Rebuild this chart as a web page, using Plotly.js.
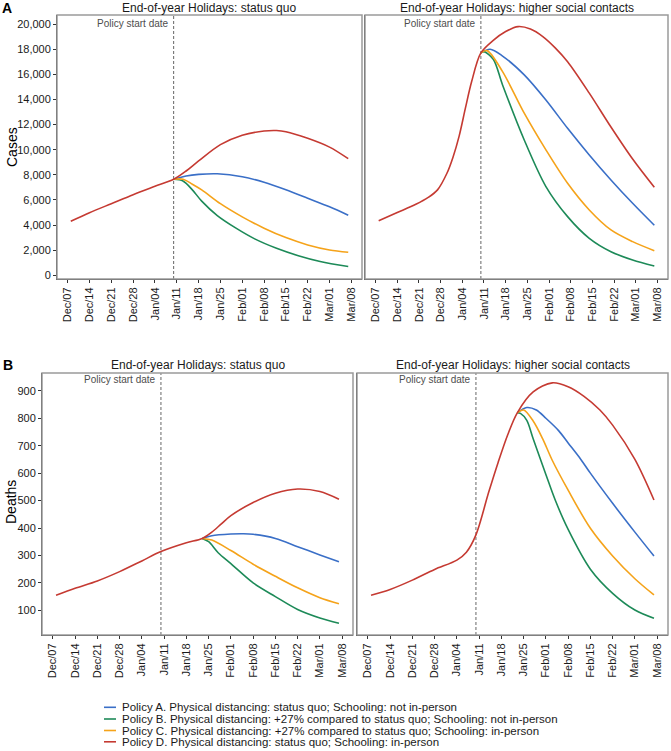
<!DOCTYPE html>
<html><head><meta charset="utf-8">
<script src="https://cdn.plot.ly/plotly-3.0.1.min.js"></script>
<style>html,body{margin:0;padding:0;background:#fff}#chart{width:671px;height:751px}</style>
</head><body><div id="chart"></div>
<script>
// ---------- data ----------
const policyDate = '2021-01-10';
const tickDates = ['2020-12-07','2020-12-14','2020-12-21','2020-12-28','2021-01-04','2021-01-11','2021-01-18','2021-01-25','2021-02-01','2021-02-08','2021-02-15','2021-02-22','2021-03-01','2021-03-08'];
const tickLabels = ['Dec/07','Dec/14','Dec/21','Dec/28','Jan/04','Jan/11','Jan/18','Jan/25','Feb/01','Feb/08','Feb/15','Feb/22','Mar/01','Mar/08'];
const panelTitles = ['End-of-year Holidays: status quo','End-of-year Holidays: higher social contacts'];
const seriesNames = [
  'Policy A. Physical distancing: status quo; Schooling: not in-person',
  'Policy B. Physical distancing: +27% compared to status quo; Schooling: not in-person',
  'Policy C. Physical distancing: +27% compared to status quo; Schooling: in-person',
  'Policy D. Physical distancing: status quo; Schooling: in-person'
];
const seriesColors = ['#3a6fc7','#1d8a58','#f5a31a','#c53a32'];
const rowLabels = ['A','B'];
const yTitles = ['Cases','Deaths'];
const casesTicks = [0,2000,4000,6000,8000,10000,12000,14000,16000,18000,20000];
const deathsTicks = [100,200,300,400,500,600,700,800,900];

// Cases, status quo
const casesSqDatesA = ['2021-01-10','2021-01-14','2021-01-18','2021-01-24','2021-02-01','2021-02-08','2021-02-15','2021-02-22','2021-03-01','2021-03-07'];
const casesSqA = [7640,7900,8030,8080,7850,7400,6800,6130,5450,4780];
const casesSqDatesB = ['2021-01-10','2021-01-13','2021-01-16','2021-01-19','2021-01-24','2021-01-30','2021-02-05','2021-02-12','2021-02-19','2021-02-26','2021-03-07'];
const casesSqB = [7640,7500,6800,5900,4750,3750,2900,2150,1560,1100,700];
const casesSqDatesC = ['2021-01-10','2021-01-13','2021-01-16','2021-01-19','2021-01-25','2021-02-01','2021-02-08','2021-02-15','2021-02-22','2021-03-01','2021-03-07'];
const casesSqC = [7640,7650,7250,6800,5700,4650,3750,3000,2420,2020,1830];
const casesSqDatesD = ['2020-12-08','2020-12-14','2020-12-21','2020-12-28','2021-01-04','2021-01-10','2021-01-14','2021-01-18','2021-01-25','2021-02-01','2021-02-08','2021-02-12','2021-02-15','2021-02-22','2021-03-01','2021-03-07'];
const casesSqD = [4300,4980,5700,6420,7080,7640,8300,9100,10400,11150,11480,11520,11430,10900,10200,9280];

// Cases, higher social contacts
const casesHcDatesA = ['2021-01-10','2021-01-13','2021-01-17','2021-01-24','2021-01-31','2021-02-07','2021-02-14','2021-02-21','2021-02-28','2021-03-07'];
const casesHcA = [17700,17990,17450,15950,13950,11700,9580,7590,5730,3980];
const casesHcDatesB = ['2021-01-10','2021-01-11','2021-01-14','2021-01-17','2021-01-24','2021-01-31','2021-02-07','2021-02-14','2021-02-21','2021-02-28','2021-03-07'];
const casesHcB = [17700,17800,17200,15150,10770,7060,4670,2945,1880,1220,740];
const casesHcDatesC = ['2021-01-10','2021-01-12','2021-01-17','2021-01-24','2021-01-31','2021-02-07','2021-02-14','2021-02-21','2021-02-28','2021-03-07'];
const casesHcC = [17700,17880,16210,12900,9980,7320,5200,3610,2680,1960];
const casesHcDatesD = ['2020-12-08','2020-12-14','2020-12-20','2020-12-24','2020-12-27','2020-12-30','2021-01-01','2021-01-03','2021-01-05','2021-01-07','2021-01-10','2021-01-14','2021-01-18','2021-01-22','2021-01-26','2021-01-30','2021-02-03','2021-02-07','2021-02-14','2021-02-21','2021-02-28','2021-03-07'];
const casesHcD = [4350,5000,5650,6200,6800,8100,9400,11100,13300,15400,17700,18700,19400,19790,19600,19000,18100,17000,14500,11800,9250,7000];

// Deaths, status quo
const deathsSqDatesA = ['2021-01-23','2021-01-26','2021-02-01','2021-02-05','2021-02-08','2021-02-15','2021-02-22','2021-03-01','2021-03-07'];
const deathsSqA = [362,372,378,379,377,362,332,302,277];
const deathsSqDatesB = ['2021-01-23','2021-01-25','2021-01-28','2021-02-01','2021-02-08','2021-02-15','2021-02-22','2021-03-01','2021-03-07'];
const deathsSqB = [362,350,310,270,200,150,103,72,53];
const deathsSqDatesC = ['2021-01-23','2021-01-26','2021-02-01','2021-02-08','2021-02-15','2021-02-22','2021-03-01','2021-03-07'];
const deathsSqC = [362,356,318,268,224,182,146,124];
const deathsSqDatesD = ['2020-12-08','2020-12-14','2020-12-21','2020-12-28','2021-01-04','2021-01-10','2021-01-18','2021-01-23','2021-01-26','2021-01-29','2021-02-01','2021-02-08','2021-02-15','2021-02-22','2021-03-01','2021-03-07'];
const deathsSqD = [155,180,207,241,280,314,346,362,385,415,445,493,527,542,533,505];

// Deaths, higher social contacts
const deathsHcDatesA = ['2021-01-23','2021-01-26','2021-01-29','2021-02-01','2021-02-05','2021-02-08','2021-02-12','2021-02-15','2021-02-22','2021-03-01','2021-03-07'];
const deathsHcA = [820,839,830,800,755,710,650,600,490,385,298];
const deathsHcDatesB = ['2021-01-23','2021-01-24','2021-01-26','2021-01-28','2021-02-01','2021-02-04','2021-02-08','2021-02-15','2021-02-22','2021-03-01','2021-03-07'];
const deathsHcB = [820,818,792,725,595,500,395,250,162,101,71];
const deathsHcDatesC = ['2021-01-23','2021-01-25','2021-01-28','2021-01-31','2021-02-03','2021-02-08','2021-02-15','2021-02-22','2021-03-01','2021-03-07'];
const deathsHcC = [820,830,790,725,647,538,399,298,215,156];
const deathsHcDatesD = ['2020-12-08','2020-12-14','2020-12-21','2020-12-28','2021-01-04','2021-01-07','2021-01-10','2021-01-14','2021-01-17','2021-01-20','2021-01-23','2021-01-28','2021-02-03','2021-02-08','2021-02-13','2021-02-18','2021-02-22','2021-03-01','2021-03-07'];
const deathsHcD = [155,176,210,249,283,312,375,530,640,740,820,896,929,915,880,830,775,650,502];

// ---------- figure ----------
const W = 671, H = 751;
const px = v => v / W;
const py = v => 1 - v / H;
const FONT = 'Liberation Sans, Arial, sans-serif';

const panels = [
  {ax: '', dates: [casesSqDatesA, casesSqDatesB, casesSqDatesC, casesSqDatesD], vals: [casesSqA, casesSqB, casesSqC, casesSqD]},
  {ax: '2', dates: [casesHcDatesA, casesHcDatesB, casesHcDatesC, casesHcDatesD], vals: [casesHcA, casesHcB, casesHcC, casesHcD]},
  {ax: '3', dates: [deathsSqDatesA, deathsSqDatesB, deathsSqDatesC, deathsSqDatesD], vals: [deathsSqA, deathsSqB, deathsSqC, deathsSqD]},
  {ax: '4', dates: [deathsHcDatesA, deathsHcDatesB, deathsHcDatesC, deathsHcDatesD], vals: [deathsHcA, deathsHcB, deathsHcC, deathsHcD]}
];

const traces = [];
panels.forEach(p => {
  for (let i = 0; i < 4; i++) {
    traces.push({
      type: 'scatter', mode: 'lines', x: p.dates[i], y: p.vals[i],
      xaxis: 'x' + p.ax, yaxis: 'y' + p.ax, name: seriesNames[i], showlegend: false,
      line: {color: seriesColors[i], width: 1.6, shape: 'spline', smoothing: 0.9},
      hoverinfo: 'skip'
    });
  }
});

const xRange = ['2020-12-03 14:00', '2021-03-11 10:00'];
function xAxis(domain, anchor) {
  return {
    domain: domain, anchor: anchor, type: 'date', range: xRange,
    tickmode: 'array', tickvals: tickDates, ticktext: tickLabels, tickangle: -90,
    ticks: 'outside', ticklen: 3, tickcolor: '#333', tickwidth: 1,
    showgrid: false, zeroline: false, showline: true, linecolor: '#333', linewidth: 1,
    tickfont: {family: FONT, size: 11, color: '#1a1a1a'}, fixedrange: true
  };
}
function yAxis(domain, anchor, range, ticks, showLabels) {
  return {
    domain: domain, anchor: anchor, range: range,
    tickmode: 'array', tickvals: ticks, tickformat: ',',
    showticklabels: showLabels, ticks: showLabels ? 'outside' : '', ticklen: 3, tickcolor: '#333',
    showgrid: false, zeroline: false, showline: true, linecolor: '#333', linewidth: 1,
    tickfont: {family: FONT, size: 11, color: '#1a1a1a'}, fixedrange: true
  };
}

const topDom = [py(279), py(15)];
const botDom = [py(635), py(373)];
const casesRange = [-294, 20716];
const deathsRange = [10, 965];

const layout = {
  width: W, height: H, margin: {l: 0, r: 0, t: 0, b: 0},
  paper_bgcolor: '#fff', plot_bgcolor: '#fff', showlegend: false,
  font: {family: FONT, color: '#1a1a1a'},
  xaxis: xAxis([px(57), px(362)], 'y'),
  xaxis2: xAxis([px(365), px(668)], 'y2'),
  xaxis3: xAxis([px(42), px(353)], 'y3'),
  xaxis4: xAxis([px(357), px(668)], 'y4'),
  yaxis: yAxis(topDom, 'x', casesRange, casesTicks, true),
  yaxis2: yAxis(topDom, 'x2', casesRange, casesTicks, false),
  yaxis3: yAxis(botDom, 'x3', deathsRange, deathsTicks, true),
  yaxis4: yAxis(botDom, 'x4', deathsRange, deathsTicks, false),
  shapes: [], annotations: []
};

// borders, policy lines, policy labels, facet titles
const panelTitleY = [7.5, 7.5, 365, 365];
const policyLabelY = [24, 24, 379, 379];
['', '2', '3', '4'].forEach((a, k) => {
  layout.shapes.push({type: 'rect', xref: 'x' + a + ' domain', yref: 'y' + a + ' domain', x0: 0, x1: 1, y0: 0, y1: 1,
    line: {color: '#9a9a9a', width: 1.5}, layer: 'above'});
  layout.shapes.push({type: 'line', xref: 'x' + a, yref: 'y' + a + ' domain', x0: policyDate, x1: policyDate, y0: 0, y1: 1,
    line: {color: '#666', width: 1, dash: '3px,2px'}, layer: 'below'});
  layout.annotations.push({xref: 'x' + a, yref: 'paper', x: policyDate, y: py(policyLabelY[k]), xanchor: 'right', yanchor: 'middle',
    xshift: -3, text: 'Policy start date', showarrow: false, font: {family: FONT, size: 10, color: '#4d4d4d'}});
  layout.annotations.push({xref: 'x' + a + ' domain', yref: 'paper', x: 0.5, y: py(panelTitleY[k]), xanchor: 'center', yanchor: 'middle',
    text: panelTitles[k % 2], showarrow: false, font: {family: FONT, size: 12, color: '#1a1a1a'}});
});

// row labels and y titles
layout.annotations.push({xref: 'paper', yref: 'paper', x: px(7), y: py(8), xanchor: 'center', yanchor: 'middle',
  text: '<b>' + rowLabels[0] + '</b>', showarrow: false, font: {family: FONT, size: 14, color: '#000'}});
layout.annotations.push({xref: 'paper', yref: 'paper', x: px(8), y: py(365), xanchor: 'center', yanchor: 'middle',
  text: '<b>' + rowLabels[1] + '</b>', showarrow: false, font: {family: FONT, size: 14, color: '#000'}});
layout.annotations.push({xref: 'paper', yref: 'paper', x: px(12), y: py(147), xanchor: 'center', yanchor: 'middle',
  text: yTitles[0], textangle: -90, showarrow: false, font: {family: FONT, size: 14, color: '#000'}});
layout.annotations.push({xref: 'paper', yref: 'paper', x: px(11), y: py(502), xanchor: 'center', yanchor: 'middle',
  text: yTitles[1], textangle: -90, showarrow: false, font: {family: FONT, size: 14, color: '#000'}});

// legend
const legendY = [707.3, 719, 730.5, 741.8];
for (let i = 0; i < 4; i++) {
  layout.shapes.push({type: 'line', xref: 'paper', yref: 'paper', x0: px(104), x1: px(116), y0: py(legendY[i]), y1: py(legendY[i]),
    line: {color: seriesColors[i], width: 1.6}});
  layout.annotations.push({xref: 'paper', yref: 'paper', x: px(120), y: py(legendY[i]), xanchor: 'left', yanchor: 'middle',
    text: seriesNames[i], showarrow: false, font: {family: FONT, size: 11.5, color: '#1a1a1a'}});
}

Plotly.newPlot('chart', traces, layout, {staticPlot: true, displayModeBar: false});
</script>
</body></html>
